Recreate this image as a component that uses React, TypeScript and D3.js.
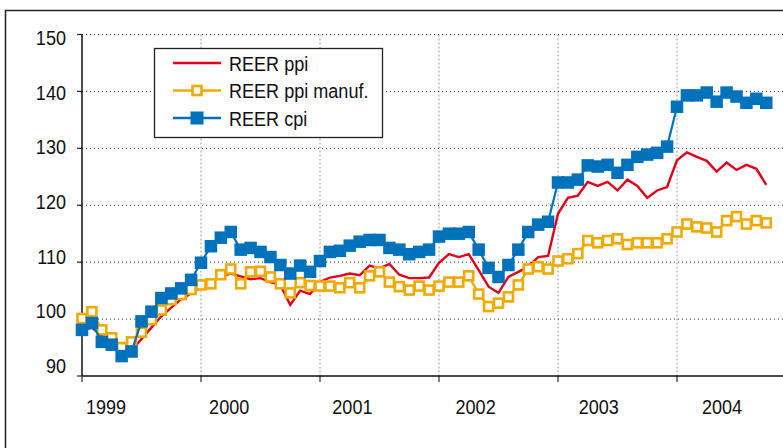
import React, { useRef, useEffect } from "react";
import * as d3 from "d3";

// monthly data, Jan 1999 .. Oct 2004
const years = [1999, 2000, 2001, 2002, 2003, 2004];
const yTicks = [90, 100, 110, 120, 130, 140, 150];

const reerPpi = [
  98.0, 98.5, 97.0, 95.5, 94.0, 94.5, 96.5, 98.5, 100.5, 102.0, 103.5, 104.5,
  105.5, 106.5, 107.5, 108.0, 107.5, 107.0, 107.2, 106.5, 106.0, 102.5, 105.0, 104.4,
  106.5, 107.3, 107.6, 108.0, 107.7, 109.4, 108.9, 109.7, 107.8, 107.2, 107.2, 107.3,
  109.9, 111.4, 110.9, 111.4, 108.6, 105.7, 104.6, 107.4, 108.3, 109.2, 110.9, 111.1,
  118.5, 121.3, 121.7, 124.1, 123.4, 124.1, 122.6, 124.5, 123.4, 121.3, 122.6, 123.2,
  127.9, 129.3, 128.5, 127.8, 125.9, 127.5, 126.2, 127.1, 126.4, 123.6,
];

const reerPpiManuf = [
  100.1, 101.3, 98.1, 96.7, 95.0, 96.0, 97.7, 99.9, 101.6, 103.4, 104.3, 105.2,
  106.0, 106.2, 107.8, 108.8, 106.2, 108.3, 108.4, 107.4, 106.2, 104.6, 106.4, 105.9,
  105.8, 105.8, 105.5, 106.4, 105.5, 107.6, 108.3, 106.5, 105.7, 105.1, 105.8, 105.1,
  105.8, 106.5, 106.5, 107.6, 104.4, 102.2, 102.8, 103.9, 106.0, 108.8, 109.2, 108.8,
  110.2, 110.6, 111.5, 113.8, 113.4, 113.8, 114.1, 113.1, 113.4, 113.4, 113.4, 114.1,
  115.3, 116.7, 116.2, 116.0, 115.3, 117.3, 118.0, 116.7, 117.3, 116.9,
];

const reerCpi = [
  98.1, 99.3, 96.0, 95.5, 93.5, 94.3, 99.6, 101.3, 103.7, 104.5, 105.4, 106.9,
  109.9, 112.8, 114.3, 115.3, 112.2, 112.5, 111.8, 110.9, 109.5, 108.0, 109.4, 108.3,
  110.2, 111.8, 112.0, 112.9, 113.6, 113.9, 113.9, 112.5, 112.2, 111.4, 111.8, 112.2,
  114.5, 115.0, 115.0, 115.3, 112.2, 109.0, 107.4, 109.5, 112.2, 115.3, 116.6, 117.1,
  124.0, 124.0, 124.5, 127.0, 126.8, 127.1, 125.7, 127.1, 128.5, 128.9, 129.2, 130.3,
  137.3, 139.3, 139.3, 139.8, 138.2, 139.8, 139.1, 138.0, 138.7, 138.0,
];

const legendLabels = ["REER ppi", "REER ppi manuf.", "REER cpi"];

const RED = "#e2001a";
const YELLOW = "#f2a900";
const BLUE = "#0071bb";

export default function App() {
  const ref = useRef<SVGSVGElement>(null);

  useEffect(() => {
    const svg = d3.select(ref.current);
    svg.selectAll("*").remove();
    // no narrow font installed, so squeeze Liberation Sans horizontally
    const font = "'Liberation Sans', Arial, sans-serif";
    const squeeze = 0.86;
    const ySq = 9; // inner size of the open squares
    const bSq = 12.5; // filled squares

    const x = d3.scaleLinear().domain([1999, 2005]).range([82, 796]);
    const y = d3.scaleLinear().domain([90, 150]).range([376, 34.5]);
    // labels sit a bit off the gridlines in the original
    const yLabel = d3.scaleLinear().domain([90, 150]).range([373, 45]);
    const xLabel = d3.scaleLinear().domain([1999, 2004]).range([106, 722]);
    const month = (i: number) => 1999 + i / 12;

    // outer frame
    svg.append("rect")
      .attr("x", 5.5).attr("y", 10.5)
      .attr("width", 800).attr("height", 460)
      .attr("fill", "none").attr("stroke", "#222").attr("stroke-width", 1.5);

    // vertical grid
    svg.append("g").selectAll("line")
      .data(years.slice(1))
      .join("line")
      .attr("x1", d => x(d)).attr("x2", d => x(d))
      .attr("y1", y(150)).attr("y2", y(90))
      .attr("stroke", "#999").attr("stroke-width", 1)
      .attr("stroke-dasharray", "2,2");

    // horizontal grid
    svg.append("g").selectAll("line")
      .data(yTicks.slice(1))
      .join("line")
      .attr("x1", x(1999)).attr("x2", 783)
      .attr("y1", d => y(d)).attr("y2", d => y(d))
      .attr("stroke", "#333").attr("stroke-width", 1)
      .attr("stroke-dasharray", "1,3");

    // y ticks + labels
    svg.append("g").selectAll("line")
      .data(yTicks)
      .join("line")
      .attr("x1", 77).attr("x2", x(1999))
      .attr("y1", d => y(d)).attr("y2", d => y(d))
      .attr("stroke", "#222").attr("stroke-width", 1.2);
    svg.append("g").selectAll("text")
      .data(yTicks)
      .join("text")
      .attr("transform", d => `translate(66,${yLabel(d)}) scale(${squeeze},1)`)
      .attr("text-anchor", "end")
      .attr("font-family", font).attr("font-size", 21).attr("fill", "#111")
      .text(d => d);

    // x ticks + labels
    svg.append("g").selectAll("line")
      .data(years)
      .join("line")
      .attr("x1", d => x(d)).attr("x2", d => x(d))
      .attr("y1", y(90)).attr("y2", y(90) + 6)
      .attr("stroke", "#555").attr("stroke-width", 1.5);
    svg.append("g").selectAll("text")
      .data(years)
      .join("text")
      .attr("transform", d => `translate(${xLabel(d)},414) scale(${squeeze},1)`)
      .attr("text-anchor", "middle")
      .attr("font-family", font).attr("font-size", 21).attr("fill", "#111")
      .text(d => d);

    // axes
    svg.append("line")
      .attr("x1", x(1999)).attr("x2", x(1999))
      .attr("y1", y(150)).attr("y2", y(90))
      .attr("stroke", "#111").attr("stroke-width", 1.5);
    svg.append("line")
      .attr("x1", x(1999)).attr("x2", 783)
      .attr("y1", y(90)).attr("y2", y(90))
      .attr("stroke", "#111").attr("stroke-width", 1.5);

    const line = d3.line<number>()
      .x((d, i) => x(month(i)))
      .y(d => y(d));

    // ppi (line only)
    svg.append("path")
      .datum(reerPpi)
      .attr("d", line)
      .attr("fill", "none").attr("stroke", RED).attr("stroke-width", 2.4);

    // ppi manuf. (open squares)
    svg.append("path")
      .datum(reerPpiManuf)
      .attr("d", line)
      .attr("fill", "none").attr("stroke", YELLOW).attr("stroke-width", 2.5);
    svg.append("g").selectAll("rect")
      .data(reerPpiManuf)
      .join("rect")
      .attr("x", (d, i) => x(month(i)) - ySq / 2).attr("y", d => y(d) - ySq / 2)
      .attr("width", ySq).attr("height", ySq)
      .attr("fill", "#fff").attr("stroke", YELLOW).attr("stroke-width", 2.6);

    // cpi (filled squares)
    svg.append("path")
      .datum(reerCpi)
      .attr("d", line)
      .attr("fill", "none").attr("stroke", BLUE).attr("stroke-width", 2.2);
    svg.append("g").selectAll("rect")
      .data(reerCpi)
      .join("rect")
      .attr("x", (d, i) => x(month(i)) - bSq / 2).attr("y", d => y(d) - bSq / 2)
      .attr("width", bSq).attr("height", bSq)
      .attr("fill", BLUE);

    // legend
    const lg = svg.append("g");
    lg.append("rect")
      .attr("x", 154.5).attr("y", 48.5)
      .attr("width", 228).attr("height", 89)
      .attr("fill", "#fff").attr("stroke", "#222").attr("stroke-width", 1.3);
    const rowY = (i: number) => 63 + i * 27.5;
    const colors = [RED, YELLOW, BLUE];
    legendLabels.forEach((lab, i) => {
      lg.append("line")
        .attr("x1", 173).attr("x2", 221)
        .attr("y1", rowY(i)).attr("y2", rowY(i))
        .attr("stroke", colors[i]).attr("stroke-width", 2.4);
      if (i === 1) {
        lg.append("rect")
          .attr("x", 197 - ySq / 2).attr("y", rowY(i) - ySq / 2)
          .attr("width", ySq).attr("height", ySq)
          .attr("fill", "#fff").attr("stroke", YELLOW).attr("stroke-width", 2.6);
      }
      if (i === 2) {
        lg.append("rect")
          .attr("x", 197 - 6.5).attr("y", rowY(i) - 6.5)
          .attr("width", 13).attr("height", 13)
          .attr("fill", BLUE);
      }
      lg.append("text")
        .attr("transform", `translate(229,${rowY(i) + 7.5}) scale(${squeeze},1)`)
        .attr("font-family", font).attr("font-size", 21).attr("fill", "#111")
        .text(lab);
    });
  }, []);

  return (
    <svg
      ref={ref}
      width={783}
      height={448}
      style={{ position: "absolute", left: 0, top: 0, background: "#fff" }}
    />
  );
}
